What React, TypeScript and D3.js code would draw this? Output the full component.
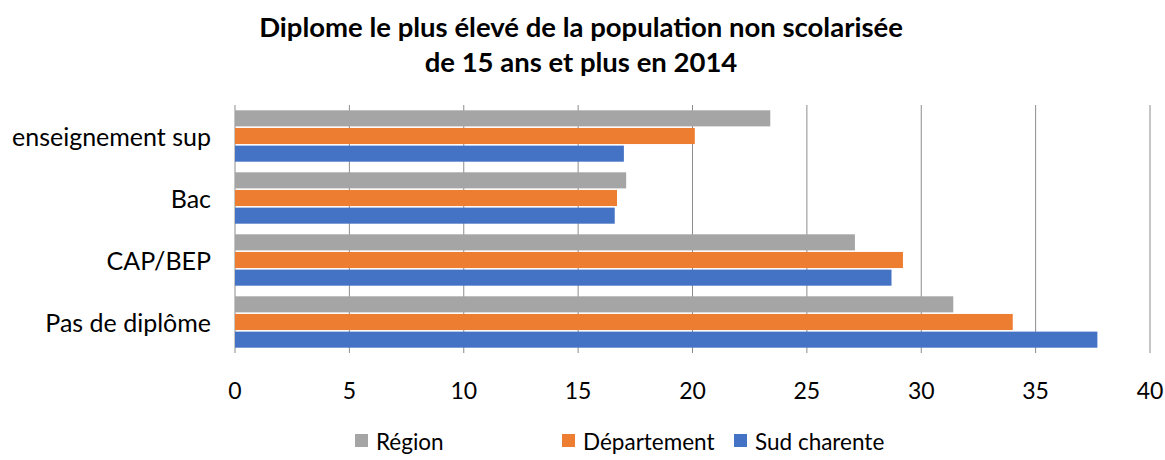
import * as d3 from "d3";

const WIDTH = 1165;
const HEIGHT = 460;
const FONT = "Lato, 'Open Sans', sans-serif";

const categories = ["enseignement sup", "Bac", "CAP/BEP", "Pas de diplôme"];
const seriesNames = ["Région", "Département", "Sud charente"];
const colors = ["#a5a5a5", "#ed7d31", "#4472c4"];

const region = [23.4, 17.1, 27.1, 31.4];
const departement = [20.1, 16.7, 29.2, 34.0];
const sudCharente = [17.0, 16.6, 28.7, 37.7];
const xTicks = [0, 5, 10, 15, 20, 25, 30, 35, 40];

const seriesValues = [region, departement, sudCharente];

const PLOT = { left: 235, right: 1150, top: 105, bottom: 353 };

export default function App() {
  const xScale = d3.scaleLinear().domain([0, 40]).range([PLOT.left, PLOT.right]);

  const yScale = d3
    .scaleBand()
    .domain(categories)
    .range([PLOT.top, PLOT.bottom])
    .paddingInner(0.12)
    .paddingOuter(0.06);

  const inner = d3
    .scaleBand()
    .domain(seriesNames)
    .range([0, yScale.bandwidth()])
    .padding(0.09);

  const grid = xTicks.map((t) => (
    <g key={t}>
      <line
        x1={xScale(t)}
        x2={xScale(t)}
        y1={PLOT.top}
        y2={PLOT.bottom}
        stroke="#8c8c8c"
        strokeWidth={1}
      />
      <text
        x={xScale(t)}
        y={399}
        textAnchor="middle"
        fontSize={23}
        fill="#000"
      >
        {t}
      </text>
    </g>
  ));

  const bars = categories.map((c, ci) => (
    <g key={c} transform={`translate(0, ${yScale(c)})`}>
      {seriesNames.map((s, si) => (
        <rect
          key={s}
          x={xScale(0)}
          y={inner(s)}
          width={xScale(seriesValues[si][ci]) - xScale(0)}
          height={inner.bandwidth()}
          fill={colors[si]}
        />
      ))}
    </g>
  ));

  const labels = categories.map((c) => (
    <text
      key={c}
      x={211}
      y={(yScale(c) ?? 0) + yScale.bandwidth() / 2}
      textAnchor="end"
      dominantBaseline="central"
      fontSize={25}
      fill="#000"
    >
      {c}
    </text>
  ));

  const legendX = [355, 562, 734];
  const legend = seriesNames.map((s, i) => (
    <g key={s} transform={`translate(${legendX[i]}, 441)`}>
      <rect x={0} y={-7} width={13} height={13} fill={colors[i]} />
      <text x={21} y={0} dominantBaseline="central" fontSize={22.5} fill="#000">
        {s}
      </text>
    </g>
  ));

  return (
    <svg
      width={WIDTH}
      height={HEIGHT}
      style={{ position: "absolute", left: 0, top: 0, fontFamily: FONT, background: "#fff" }}
    >
      <rect width={WIDTH} height={HEIGHT} fill="#fff" />
      <text x={581} y={37} textAnchor="middle" fontSize={27.5} fontWeight="bold" fill="#000">
        Diplome le plus élevé de la population non scolarisée
      </text>
      <text x={581} y={72} textAnchor="middle" fontSize={27.5} fontWeight="bold" fill="#000">
        de 15 ans et plus en 2014
      </text>
      {grid}
      {bars}
      {labels}
      {legend}
    </svg>
  );
}
